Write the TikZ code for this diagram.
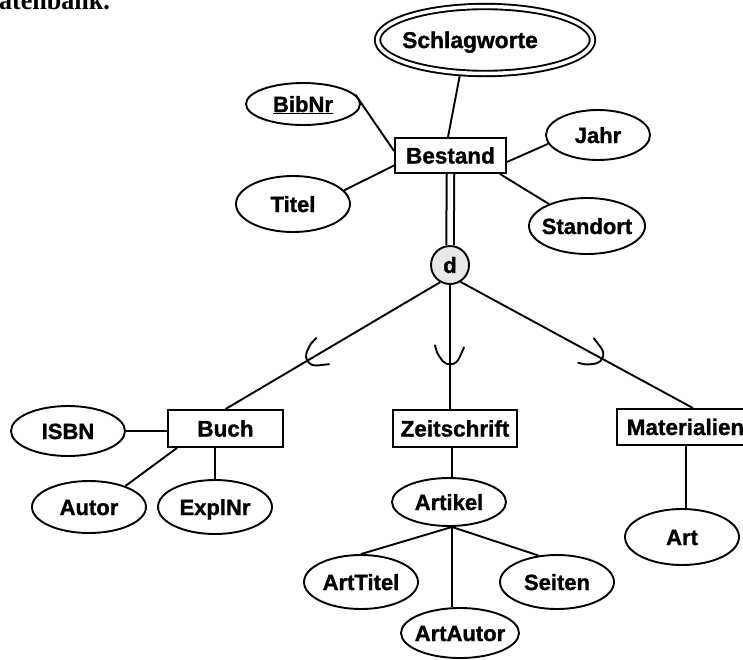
\documentclass[tikz,border=0pt]{standalone}
\usepackage{fontspec}
\usepackage{graphicx}
\setmainfont{Liberation Sans}[BoldFeatures={FakeBold=1.2}]
\newfontfamily\serifbold{Liberation Serif}
\usetikzlibrary{shapes.geometric,calc}
\newcommand\zb[1]{\makebox[0pt]{#1}}
\begin{document}
\begin{tikzpicture}[x=1pt,y=-1pt,
  attr/.style 2 args={ellipse, draw, line width=1.9pt, inner sep=0pt,
    minimum width=#1, minimum height=#2, text height=16pt, text depth=0pt,
    font=\fontsize{22}{26}\selectfont\bfseries},
  ent/.style={rectangle, draw, line width=1.9pt, inner sep=0pt,
    text height=16pt, text depth=0pt, font=\fontsize{22.5}{27}\selectfont\bfseries},
  conn/.style={line width=1.9pt},
  subsetsym/.style={line width=1.9pt, line cap=round, line join=round},
]
\useasboundingbox (0,0) rectangle (743,659);

\node[anchor=base west, inner sep=0pt, font=\serifbold\bfseries\fontsize{28}{32}\selectfont] (head) at (-1,9.3) {\scalebox{0.93}[1]{atenbank.}};

% Bestand and its attributes
\node[attr={215}{67}, double, double distance=3.5pt, outer sep=3.7pt,
  font=\fontsize{22.8}{27}\selectfont\bfseries] (schlag) at (485,40) {\zb{Schlagworte\hspace*{30pt}}};
\node[ent, minimum width=111, minimum height=35] (bestand) at (450.5,155.5) {Bestand};
\node[attr={114}{42}] (bibnr) at (303,104) {\zb{\underline{BibNr}}};
\node[attr={104}{50}] (jahr) at (598,135) {\zb{Jahr}};
\node[attr={114}{56}] (titel) at (293,204) {\zb{Titel}};
\node[attr={116}{56}] (standort) at (587,226) {\zb{Standort}};

% specialization circle
\node[circle, draw, line width=1.9pt, fill=gray!18, minimum size=38, inner sep=0pt,
  font=\fontsize{22}{26}\selectfont\bfseries] (d) at (450,265) {d};

% subclasses
\node[ent, minimum width=115, minimum height=37] (buch) at (225.5,428.5) {Buch};
\node[ent, minimum width=124, minimum height=37] (zeit) at (455,428.5) {Zeitschrift};
\node[ent, minimum width=137, minimum height=36] (mat) at (685.5,427) {Materialien};

\node[attr={114}{50}] (isbn) at (68,431) {\zb{ISBN}};
\node[attr={114}{52}] (autor) at (89,507) {\zb{Autor}};
\node[attr={114}{54}] (explnr) at (215,507) {\zb{ExplNr}};
\node[attr={114}{48}] (artikel) at (449,502) {\zb{Artikel}};
\node[attr={114}{56}] (art) at (682,537) {\zb{Art}};
\node[attr={114}{54}] (arttitel) at (361,582) {\zb{ArtTitel}};
\node[attr={114}{54}] (seiten) at (557,582) {\zb{Seiten}};
\node[attr={118}{50}] (artautor) at (460,633) {\zb{ArtAutor}};

% connectors of Bestand
\draw[conn] (schlag.-125) -- ([xshift=-2.5pt]bestand.north);
\draw[conn] (bibnr.10) -- ([yshift=4.5pt]bestand.west);
\draw[conn] (titel.15) -- ([yshift=-10pt]bestand.west);
\draw[conn] (jahr.190) -- ([yshift=-6.5pt]bestand.east);
\draw[conn] (standort.150) -- ([xshift=-7pt]bestand.south east);
\draw[line width=2pt, double, double distance=5.5pt] (bestand.south) -- (d.north);

% specialization lines
\coordinate (zt) at (d.south |- zeit.north);
\draw[conn] (d.-120) -- (buch.north);
\draw[conn] (d.south) -- (zt);
\draw[conn] (d.-58) -- ([xshift=7.5pt]mat.north);

\coordinate (s1) at ($(d.-120)!0.6186!(buch.north)$);
\coordinate (s2) at ($(d.south)!0.64!(zt)$);
\coordinate (s3) at ($(d.-58)!0.609!([xshift=7.5pt]mat.north)$);
\foreach \s/\r in {s1/-59.6, s2/0, s3/61.5}
  \draw[subsetsym, shift={(\s)}, rotate=\r]
    (-15,-19) -- (-13,-12) .. controls (-8,-3) and (-5,0) .. (0,0)
    .. controls (5,0) and (8,-3) .. (10,-8) -- (14,-17);

% Buch attributes
\draw[conn] (isbn.east) -- (isbn.east -| buch.west);
\draw[conn] (autor.30) -- ([xshift=10pt]buch.south west);
\draw[conn] (explnr.north) -- (explnr.north |- buch.south);

% Zeitschrift attributes
\coordinate (akt) at ([xshift=3pt]artikel.north);
\draw[conn] (akt) -- (akt |- zeit.south);
\coordinate (ak) at ([xshift=3pt]artikel.south);
\draw[conn] (ak) -- (arttitel.north);
\draw[conn] (ak) -- (seiten.125);
\draw[conn] (ak) -- (ak |- artautor.north);

% Materialien attribute
\coordinate (artTop) at ([xshift=4pt]art.north);
\draw[conn] (artTop) -- (artTop |- mat.south);
\end{tikzpicture}
\end{document}
